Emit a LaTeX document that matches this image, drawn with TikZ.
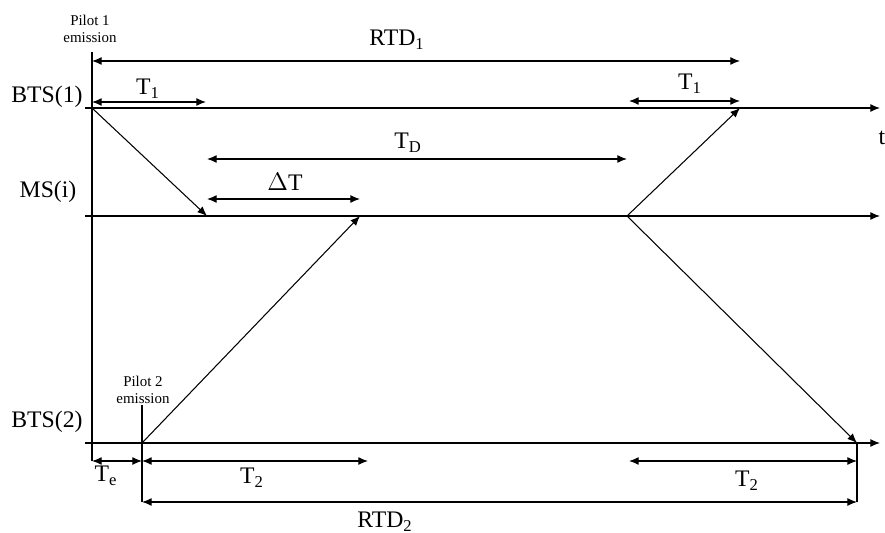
\documentclass[tikz,border=0pt]{standalone}
\usepackage{fontspec}
\setmainfont{Liberation Serif}
\usetikzlibrary{arrows.meta}

\tikzset{
  lbl/.style={font=\fontsize{13.5}{16}\selectfont, inner sep=0pt},
  note/.style={font=\fontsize{8.5}{10}\selectfont, align=center, inner sep=0pt},
  axis/.style={->},
  span/.style={<->}
}

\begin{document}
\begin{tikzpicture}[x=0.02cm,y=-0.02cm,>={Latex[length=5.5pt,width=4.5pt]},line width=0.6pt]
			\useasboundingbox (0,0) rectangle (885,533);
			% time axes
			\coordinate (b1s) at (85,108);  \coordinate (b1e) at (880,108);
			\coordinate (mss) at (85,216);  \coordinate (mse) at (880,216);
			\coordinate (b2s) at (85,443);  \coordinate (b2e) at (880,443);
			\draw[axis] (b1s)--(b1e);
			\draw[axis] (mss)--(mse);
			\draw[axis] (b2s)--(b2e);
			% emission instants
			\coordinate (p1top) at (92,52);  \coordinate (p1bot) at (92,461);
			\coordinate (p2top) at (142,405); \coordinate (p2bot) at (142,502);
			\draw (p1top)--(p1bot);
			\draw (p2top)--(p2bot);
			% signal paths
			\coordinate (tx1) at (92,108);   \coordinate (rx1) at (207,216);
			\coordinate (tx2) at (142,443);  \coordinate (rx2) at (360,216);
			\coordinate (msx) at (627,216);
			\coordinate (back1) at (740,108); \coordinate (back2) at (857,443);
			\draw[->] (tx1)--(rx1);
			\draw[->] (tx2)--(rx2);
			\draw[->] (msx)--(back1);
			\draw[->] (msx)--(back2);
			\coordinate (rtdend) at (857,502);
			\draw (back2)--(rtdend);
			% delays
			\draw[span] (92,61)--(740,61) node[lbl] at (397,40) {RTD\textsubscript{1}};
			\draw[span] (92,102)--(206,102) node[lbl] at (148,89) {T\textsubscript{1}};
			\draw[span] (629,101)--(740,101) node[lbl] at (690,84) {T\textsubscript{1}};
			\draw[span] (207,159)--(627,159) node[lbl] at (408,143) {T\textsubscript{D}};
			\draw[span] (207,199)--(360,199) node[lbl] at (285,182) {$\Delta$T};
			\draw[span] (92,461)--(142,461) node[lbl] at (106,476) {T\textsubscript{e}};
			\draw[span] (142,461)--(368,461) node[lbl] at (252,478) {T\textsubscript{2}};
			\draw[span] (629,461)--(857,461) node[lbl] at (747,481) {T\textsubscript{2}};
			\draw[span] (p2bot)--(rtdend) node[lbl] at (385,522) {RTD\textsubscript{2}};
			% names
			\node[lbl] (bts1) at (47,97) {BTS(1)};
			\node[lbl] (msi) at (48,192) {MS(i)};
			\node[lbl] (bts2) at (47,422) {BTS(2)};
			\node[lbl] (tlab) at (882,138) {t};
			\node[note] (pilot1) at (90,29) {Pilot 1\\emission};
			\node[note] (pilot2) at (143,390) {Pilot 2\\emission};
		\end{tikzpicture}
\end{document}
